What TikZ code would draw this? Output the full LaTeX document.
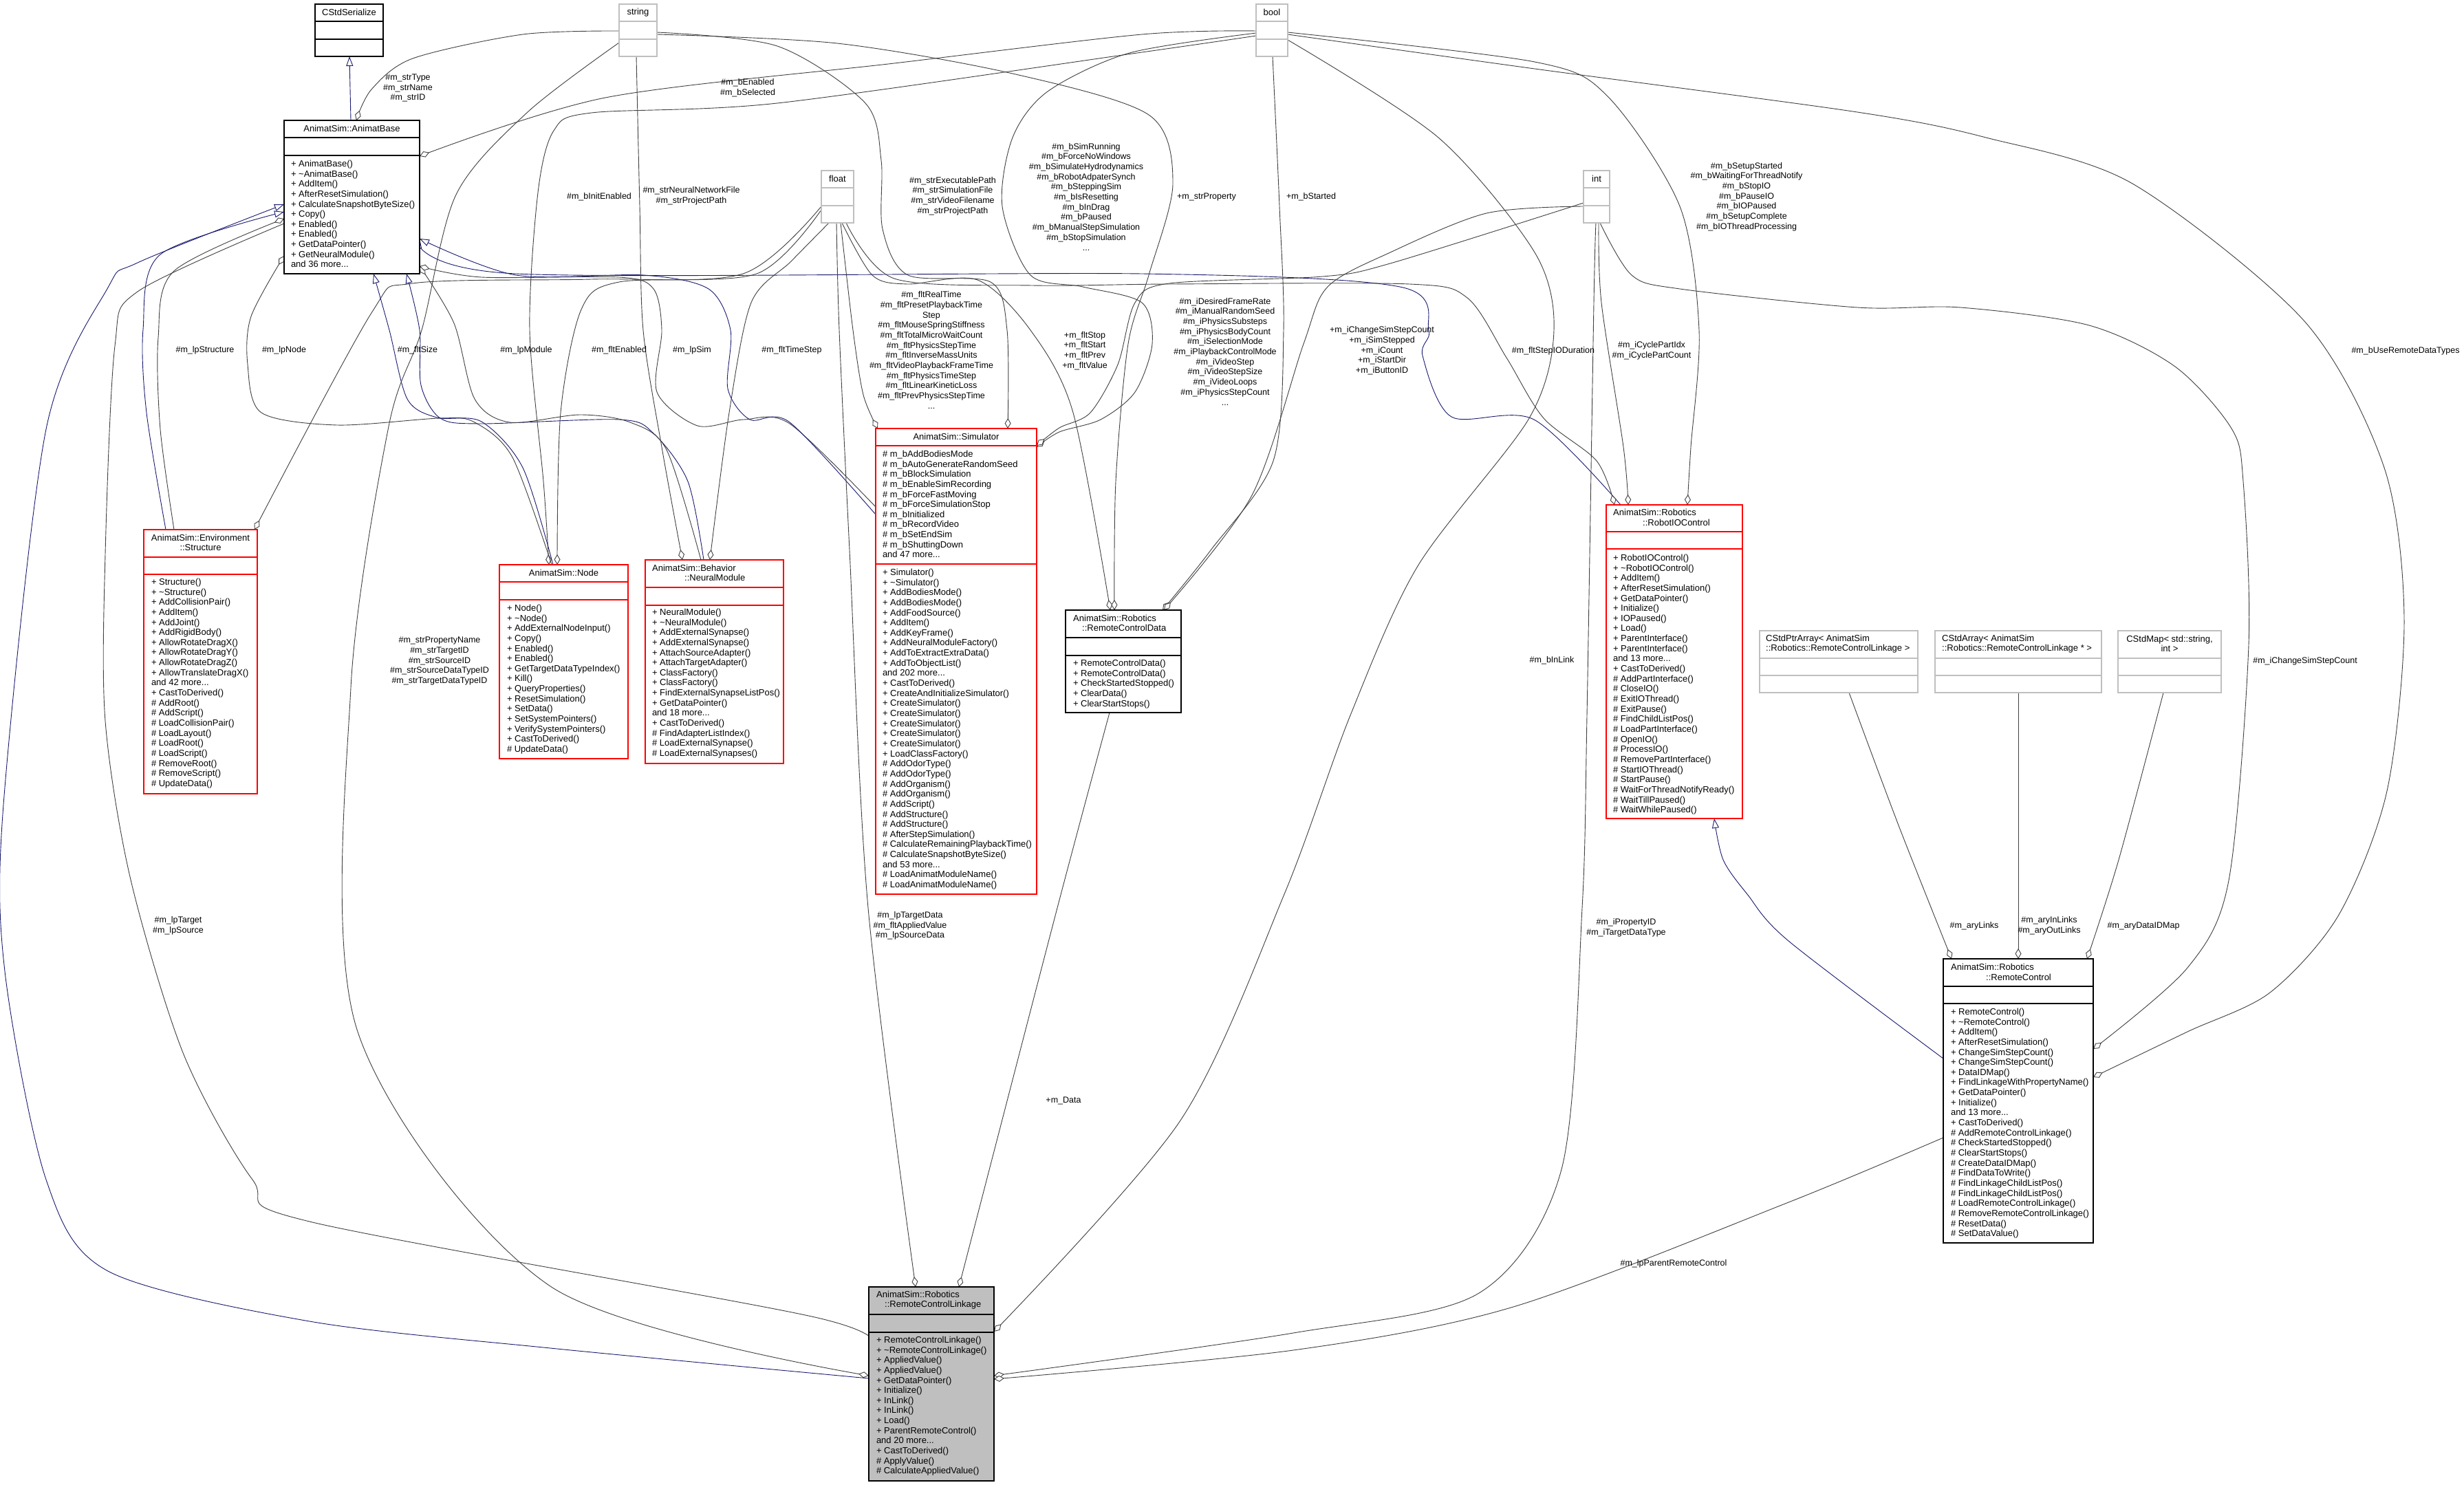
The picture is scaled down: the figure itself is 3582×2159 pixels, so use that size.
\documentclass[tikz,border=0pt]{standalone}
\usepackage{fontspec}
\setmainfont{Liberation Sans}
\usetikzlibrary{arrows.meta}
\definecolor{edgegray}{HTML}{404040}
\definecolor{inhblue}{HTML}{191970}
\definecolor{boxred}{HTML}{FF0000}
\definecolor{boxgray}{HTML}{BFBFBF}
\definecolor{linkfill}{HTML}{BFBFBF}
\newcommand{\mytilde}{\textasciitilde}
\newcommand{\hsep}[3]{\draw[#1, line width=1.1pt] ([shift={(0,#3)}]#2.north west) -- ([shift={(0,#3)}]#2.north east);}
\begin{document}
\begin{tikzpicture}[x=1pt,y=-1pt,
  box/.style={draw=#1, line width=1.1pt, fill=white, outer sep=0pt, inner sep=0pt, anchor=north west},
  tx/.style={inner sep=0pt, outer sep=0pt, font=\fontsize{13}{14.65}\selectfont, align=left, anchor=north west},
  ttl/.style={inner sep=0pt, font=\fontsize{13}{14.65}\selectfont, anchor=center},
  ttlw/.style={inner sep=0pt, font=\fontsize{13}{14.65}\selectfont, anchor=west},
  lbl/.style={inner sep=0pt, font=\fontsize{12.5}{14.7}\selectfont, align=center, anchor=center},
  agg/.style={draw=edgegray, line width=0.9pt, -{Diamond[length=15pt,width=9pt,fill=white]}},
  inh/.style={draw=inhblue, line width=0.9pt, -{Triangle[length=14pt,width=10pt,fill=white]}}]
\fill[white] (0,0) rectangle (3582,2159);
\useasboundingbox (0,0) rectangle (3582,2159);

% ---------- boxes (placed first so anchors exist) ----------
\node[box=black, minimum width=99pt, minimum height=76pt] (cs) at (458,6) {};
\node[box=black, minimum width=197pt, minimum height=223pt] (ab) at (413,175) {};
\node[box=boxgray, minimum width=55pt, minimum height=76pt] (str) at (900,6) {};
\node[box=boxgray, minimum width=47pt, minimum height=76pt] (flt) at (1194,248) {};
\node[box=boxgray, minimum width=46pt, minimum height=76pt] (bool) at (1826,6) {};
\node[box=boxgray, minimum width=38pt, minimum height=76pt] (int) at (2302,248) {};
\node[box=boxred, minimum width=165pt, minimum height=384pt] (st) at (209,770) {};
\node[box=boxred, minimum width=187pt, minimum height=282pt] (nd) at (726,821) {};
\node[box=boxred, minimum width=201pt, minimum height=296pt] (nm) at (938,814) {};
\node[box=boxred, minimum width=234pt, minimum height=677pt] (sim) at (1273,623) {};
\node[box=black, minimum width=168pt, minimum height=149pt] (rcd) at (1549,887) {};
\node[box=boxred, minimum width=198pt, minimum height=456pt] (rio) at (2335,734) {};
\node[box=boxgray, minimum width=230pt, minimum height=90pt] (ptr) at (2558,917) {};
\node[box=boxgray, minimum width=242pt, minimum height=90pt] (arr) at (2813,917) {};
\node[box=boxgray, minimum width=150pt, minimum height=90pt] (map) at (3079,917) {};
\node[box=black, minimum width=218pt, minimum height=413pt] (rc) at (2825,1394) {};
\node[box=black, fill=linkfill, minimum width=182pt, minimum height=282pt] (lk) at (1263,1871) {};

% ---------- connectors ----------
\draw[inh] ([shift={(97,0)}]ab.north west) -- ([shift={(50,76)}]cs.north west);
\draw[agg] plot[smooth] coordinates {([shift={(0,39)}]str.north west) (760,50) (600,85) (540,130) ([shift={(105,0)}]ab.north west)};
\draw[agg] plot[smooth] coordinates {([shift={(0,39)}]bool.north west) (1660,50) (1300,92) (880,142) ([shift={(197,52)}]ab.north west)};
\draw[agg] plot[smooth] coordinates {([shift={(0,46)}]bool.north west) (1660,76) (1130,150) (860,164) (805,190) (782,280) (770,480) (790,700) ([shift={(72,0)}]nd.north west)};
\draw[agg] plot[smooth] coordinates {([shift={(0,57)}]flt.north west) (1100,398) (900,410) (845,450) (815,600) ([shift={(84,0)}]nd.north west)};
\draw[agg] plot[smooth] coordinates {([shift={(0,52)}]flt.north west) (1080,398) (860,406) (600,412) (540,455) ([shift={(161,0)}]st.north west)};
\draw[inh] plot[smooth] coordinates {([shift={(32,0)}]st.north west) (213,600) (208,479) (233,370) ([shift={(0,133)}]ab.north west)};
\draw[agg] plot[smooth] coordinates {([shift={(44,0)}]st.north west) (233,624) (230,491) (253,394) ([shift={(0,143)}]ab.north west)};
\draw[agg] plot[smooth] coordinates {([shift={(76,0)}]nd.north west) (745,665) (690,614) (640,608) (490,618) (380,600) (360,530) (365,460) ([shift={(0,197)}]ab.north west)};
\draw[inh] plot[smooth] coordinates {([shift={(78,0)}]nd.north west) (760,680) (700,613) (635,607) (592,580) (566,480) ([shift={(130,223)}]ab.north west)};
\draw[inh] plot[smooth] coordinates {([shift={(85,0)}]nm.north west) (1000,700) (950,630) (900,610) (700,616) (640,608) (612,560) (610,480) ([shift={(178,223)}]ab.north west)};
\draw[agg] plot[smooth] coordinates {([shift={(81,0)}]nm.north west) (969,654) (916,614) (843,603) (741,614) (690,580) (660,470) ([shift={(197,212)}]ab.north west)};
\draw[agg] plot[smooth] coordinates {([shift={(0,114)}]sim.north west) (1148,616) (1081,610) (1014,619) (955,570) (962,480) (950,420) (900,403) (700,403) ([shift={(197,212)}]ab.north west)};
\draw[inh] plot[smooth] coordinates {([shift={(0,125)}]sim.north west) (1148,614) (1090,610) (1058,565) (1062,480) (1030,420) (936,400) (750,400) ([shift={(197,172)}]ab.north west)};
\draw[inh] plot[smooth] coordinates {([shift={(21,0)}]rio.north west) (2230,610) (2110,606) (2068,517) (2077,480) (2035,417) (1660,398) (750,398) ([shift={(197,172)}]ab.north west)};
\draw[agg] plot[smooth] coordinates {([shift={(0,150)}]ab.north west) (200,424) (167,503) (153,806) (153,1048) (190,1279) (267,1533) (367,1715) (450,1776) (1180,1914) ([shift={(0,86)}]lk.north west)};
\draw[inh] plot[smooth] coordinates {([shift={(0,133)}]lk.north west) (800,1960) (450,1921) (157,1848) (67,1715) (7,1412) (5,1170) (67,624) (157,418) (200,382) ([shift={(0,122)}]ab.north west)};
\draw[agg] plot[smooth] coordinates {([shift={(0,56)}]str.north west) (767,163) (663,283) (613,480) (565,620) (510,1000) (520,1500) (800,1870) ([shift={(0,129)}]lk.north west)};
\draw[agg] plot[smooth] coordinates {([shift={(25,76)}]str.north west) (930,300) (935,480) (962,650) ([shift={(54,0)}]nm.north west)};
\draw[agg] plot[smooth] coordinates {([shift={(11,76)}]flt.north west) (1150,380) (1092,440) (1060,600) ([shift={(94,0)}]nm.north west)};
\draw[agg] plot[smooth] coordinates {([shift={(28,76)}]flt.north west) (1240,480) (1255,574) ([shift={(3,0)}]sim.north west)};
\draw[agg] plot[smooth] coordinates {([shift={(22,76)}]flt.north west) (1220,480) (1235,800) (1262,1320) ([shift={(68,0)}]lk.north west)};
\draw[agg] plot[smooth] coordinates {([shift={(55,41)}]str.north west) (1130,67) (1258,150) (1281,233) (1283,333) (1320,400) (1440,410) (1464,480) ([shift={(192,0)}]sim.north west)};
\draw[agg] plot[smooth] coordinates {([shift={(30,76)}]flt.north west) (1268,400) (1319,413) (1421,407) (1498,480) (1560,600) ([shift={(65,0)}]rcd.north west)};
\draw[agg] plot[smooth] coordinates {([shift={(55,44)}]str.north west) (1217,63) (1472,107) (1670,167) (1705,267) (1670,400) (1640,500) (1622,700) ([shift={(71,0)}]rcd.north west)};
\draw[agg] plot[smooth] coordinates {([shift={(0,42)}]bool.north west) (1642,77) (1523,133) (1472,200) (1457,300) (1498,400) (1574,417) (1660,440) (1675,500) (1650,570) (1600,610) (1540,628) ([shift={(234,27)}]sim.north west)};
\draw[agg] plot[smooth] coordinates {([shift={(0,47)}]int.north west) (2021,383) (1923,402) (1700,412) (1650,440) (1625,530) (1585,600) (1540,622) ([shift={(234,25)}]sim.north west)};
\draw[agg] plot[smooth] coordinates {([shift={(24,76)}]bool.north west) (1860,300) (1866,480) (1851,670) (1760,800) ([shift={(141,0)}]rcd.north west)};
\draw[agg] plot[smooth] coordinates {([shift={(0,52)}]int.north west) (2161,310) (2021,367) (1930,417) (1895,500) (1820,720) ([shift={(143,0)}]rcd.north west)};
\draw[agg] plot[smooth] coordinates {([shift={(46,41)}]bool.north west) (2231,90) (2337,140) (2442,300) (2470,480) (2458,650) ([shift={(118,0)}]rio.north west)};
\draw[agg] plot[smooth] coordinates {([shift={(46,44)}]bool.north west) (2231,100) (2700,163) (2887,200) (3100,267) (3350,467) (3466,680) (3495,900) (3470,1150) (3400,1330) (3300,1443) (3180,1500) ([shift={(218,172)}]rc.north west)};
\draw[agg] plot[smooth] coordinates {([shift={(24,76)}]int.north west) (2372,400) (2442,420) (2700,447) (2850,447) (3037,473) (3162,533) (3244,623) (3261,700) (3269,937) (3240,1280) (3180,1407) ([shift={(218,131)}]rc.north west)};
\draw[agg] plot[smooth] coordinates {([shift={(22,76)}]int.north west) (2328,440) (2360,650) ([shift={(32,0)}]rio.north west)};
\draw[agg] plot[smooth] coordinates {([shift={(36,76)}]flt.north west) (1300,405) (1500,415) (1700,413) (2049,413) (2133,433) (2190,520) (2244,608) (2321,670) ([shift={(12,0)}]rio.north west)};
\draw[agg] plot[smooth] coordinates {([shift={(46,52)}]bool.north west) (2091,200) (2231,367) (2259,480) (2223,608) (2061,823) (1963,1040) (1867,1300) (1716,1629) ([shift={(182,65)}]lk.north west)};
\draw[agg] plot[smooth] coordinates {([shift={(18,76)}]int.north west) (2317,440) (2307,1040) (2300,1320) (2270,1700) (2150,1880) (1880,1938) ([shift={(182,129)}]lk.north west)};
\draw[agg] plot[smooth] coordinates {([shift={(64,149)}]rcd.north west) (1537,1320) ([shift={(131,0)}]lk.north west)};
\draw[agg] plot[smooth] coordinates {([shift={(0,260)}]rc.north west) (2600,1748) (2200,1900) (1880,1963) ([shift={(182,134)}]lk.north west)};
\draw[agg] plot[smooth] coordinates {([shift={(130,90)}]ptr.north west) (2760,1200) ([shift={(12,0)}]rc.north west)};
\draw[agg] ([shift={(121,90)}]arr.north west) -- ([shift={(109,0)}]rc.north west);
\draw[agg] plot[smooth] coordinates {([shift={(66,90)}]map.north west) (3080,1250) ([shift={(209,0)}]rc.north west)};
\draw[inh] plot[smooth] coordinates {([shift={(0,145)}]rc.north west) (2600,1368) (2540,1300) (2505,1250) ([shift={(157,456)}]rio.north west)};

% ---------- redraw boxes on top of connectors ----------
\node[box=black, minimum width=99pt, minimum height=76pt] (cs2) at (458,6) {};
\node[box=black, minimum width=197pt, minimum height=223pt] (ab2) at (413,175) {};
\node[box=boxgray, minimum width=55pt, minimum height=76pt] (str2) at (900,6) {};
\node[box=boxgray, minimum width=47pt, minimum height=76pt] (flt2) at (1194,248) {};
\node[box=boxgray, minimum width=46pt, minimum height=76pt] (bool2) at (1826,6) {};
\node[box=boxgray, minimum width=38pt, minimum height=76pt] (int2) at (2302,248) {};
\node[box=boxred, minimum width=165pt, minimum height=384pt] (st2) at (209,770) {};
\node[box=boxred, minimum width=187pt, minimum height=282pt] (nd2) at (726,821) {};
\node[box=boxred, minimum width=201pt, minimum height=296pt] (nm2) at (938,814) {};
\node[box=boxred, minimum width=234pt, minimum height=677pt] (sim2) at (1273,623) {};
\node[box=black, minimum width=168pt, minimum height=149pt] (rcd2) at (1549,887) {};
\node[box=boxred, minimum width=198pt, minimum height=456pt] (rio2) at (2335,734) {};
\node[box=boxgray, minimum width=230pt, minimum height=90pt] (ptr2) at (2558,917) {};
\node[box=boxgray, minimum width=242pt, minimum height=90pt] (arr2) at (2813,917) {};
\node[box=boxgray, minimum width=150pt, minimum height=90pt] (map2) at (3079,917) {};
\node[box=black, minimum width=218pt, minimum height=413pt] (rc2) at (2825,1394) {};
\node[box=black, fill=linkfill, minimum width=182pt, minimum height=282pt] (lk2) at (1263,1871) {};

% separators
\hsep{black}{cs}{25}\hsep{black}{cs}{51}
\hsep{black}{ab}{25}\hsep{black}{ab}{51}
\hsep{boxgray}{str}{25}\hsep{boxgray}{str}{51}
\hsep{boxgray}{flt}{25}\hsep{boxgray}{flt}{51}
\hsep{boxgray}{bool}{25}\hsep{boxgray}{bool}{51}
\hsep{boxgray}{int}{25}\hsep{boxgray}{int}{51}
\hsep{boxred}{st}{40}\hsep{boxred}{st}{65}
\hsep{boxred}{nd}{25}\hsep{boxred}{nd}{51}
\hsep{boxred}{nm}{40}\hsep{boxred}{nm}{66}
\hsep{boxred}{sim}{25}\hsep{boxred}{sim}{197}
\hsep{black}{rcd}{40}\hsep{black}{rcd}{66}
\hsep{boxred}{rio}{39}\hsep{boxred}{rio}{64}
\hsep{boxgray}{ptr}{40}\hsep{boxgray}{ptr}{65}
\hsep{boxgray}{arr}{40}\hsep{boxgray}{arr}{65}
\hsep{boxgray}{map}{40}\hsep{boxgray}{map}{65}
\hsep{black}{rc}{40}\hsep{black}{rc}{65}
\hsep{black}{lk}{40}\hsep{black}{lk}{66}

% ---------- titles ----------
\node[ttl] (cs-t) at (507.5,18) {CStdSerialize};
\node[ttl] (ab-t) at (511.5,187) {AnimatSim::AnimatBase};
\node[ttl] (str-t) at (927.5,18) {string};
\node[ttl] (flt-t) at (1217.5,260) {float};
\node[ttl] (bool-t) at (1849,18) {bool};
\node[ttl] (int-t) at (2321,260) {int};
\node[ttl, align=center] (st-t) at (291.5,789) {AnimatSim::Environment\\::Structure};
\node[ttl] (nd-t) at (819.5,833) {AnimatSim::Node};
\node[ttlw] (nm-t1) at (948,826) {AnimatSim::Behavior};
\node[ttlw] (nm-t2) at (995,840) {::NeuralModule};
\node[ttl] (sim-t) at (1390,635) {AnimatSim::Simulator};
\node[ttlw] (rcd-t1) at (1560,899) {AnimatSim::Robotics};
\node[ttlw] (rcd-t2) at (1573,913) {::RemoteControlData};
\node[ttlw] (rio-t1) at (2345,745) {AnimatSim::Robotics};
\node[ttlw] (rio-t2) at (2388,760) {::RobotIOControl};
\node[ttlw] (ptr-t1) at (2567,929) {CStdPtrArray< AnimatSim};
\node[ttlw] (ptr-t2) at (2567,943) {::Robotics::RemoteControlLinkage >};
\node[ttlw] (arr-t1) at (2823,929) {CStdArray< AnimatSim};
\node[ttlw] (arr-t2) at (2823,943) {::Robotics::RemoteControlLinkage * >};
\node[ttl, align=center] (map-t) at (3154,936) {CStdMap< std::string,\\int >};
\node[ttlw] (rc-t1) at (2836,1406) {AnimatSim::Robotics};
\node[ttlw] (rc-t2) at (2887,1421) {::RemoteControl};
\node[ttlw] (lk-t1) at (1274,1882) {AnimatSim::Robotics};
\node[ttlw] (lk-t2) at (1286,1897) {::RemoteControlLinkage};

% ---------- member lists ----------
\node[tx] (ab-m) at (423,233) {+ AnimatBase()\\+ \mytilde AnimatBase()\\+ AddItem()\\+ AfterResetSimulation()\\+ CalculateSnapshotByteSize()\\+ Copy()\\+ Enabled()\\+ Enabled()\\+ GetDataPointer()\\+ GetNeuralModule()\\and 36 more...};
\node[tx] (st-m) at (220,841) {+ Structure()\\+ \mytilde Structure()\\+ AddCollisionPair()\\+ AddItem()\\+ AddJoint()\\+ AddRigidBody()\\+ AllowRotateDragX()\\+ AllowRotateDragY()\\+ AllowRotateDragZ()\\+ AllowTranslateDragX()\\and 42 more...\\+ CastToDerived()\\\# AddRoot()\\\# AddScript()\\\# LoadCollisionPair()\\\# LoadLayout()\\\# LoadRoot()\\\# LoadScript()\\\# RemoveRoot()\\\# RemoveScript()\\\# UpdateData()};
\node[tx] (nd-m) at (737,879) {+ Node()\\+ \mytilde Node()\\+ AddExternalNodeInput()\\+ Copy()\\+ Enabled()\\+ Enabled()\\+ GetTargetDataTypeIndex()\\+ Kill()\\+ QueryProperties()\\+ ResetSimulation()\\+ SetData()\\+ SetSystemPointers()\\+ VerifySystemPointers()\\+ CastToDerived()\\\# UpdateData()};
\node[tx] (nm-m) at (948,885) {+ NeuralModule()\\+ \mytilde NeuralModule()\\+ AddExternalSynapse()\\+ AddExternalSynapse()\\+ AttachSourceAdapter()\\+ AttachTargetAdapter()\\+ ClassFactory()\\+ ClassFactory()\\+ FindExternalSynapseListPos()\\+ GetDataPointer()\\and 18 more...\\+ CastToDerived()\\\# FindAdapterListIndex()\\\# LoadExternalSynapse()\\\# LoadExternalSynapses()};
\node[tx] (sim-a) at (1283,655) {\# m\_bAddBodiesMode\\\# m\_bAutoGenerateRandomSeed\\\# m\_bBlockSimulation\\\# m\_bEnableSimRecording\\\# m\_bForceFastMoving\\\# m\_bForceSimulationStop\\\# m\_bInitialized\\\# m\_bRecordVideo\\\# m\_bSetEndSim\\\# m\_bShuttingDown\\and 47 more...};
\node[tx] (sim-m) at (1283,827) {+ Simulator()\\+ \mytilde Simulator()\\+ AddBodiesMode()\\+ AddBodiesMode()\\+ AddFoodSource()\\+ AddItem()\\+ AddKeyFrame()\\+ AddNeuralModuleFactory()\\+ AddToExtractExtraData()\\+ AddToObjectList()\\and 202 more...\\+ CastToDerived()\\+ CreateAndInitializeSimulator()\\+ CreateSimulator()\\+ CreateSimulator()\\+ CreateSimulator()\\+ CreateSimulator()\\+ CreateSimulator()\\+ LoadClassFactory()\\\# AddOdorType()\\\# AddOdorType()\\\# AddOrganism()\\\# AddOrganism()\\\# AddScript()\\\# AddStructure()\\\# AddStructure()\\\# AfterStepSimulation()\\\# CalculateRemainingPlaybackTime()\\\# CalculateSnapshotByteSize()\\and 53 more...\\\# LoadAnimatModuleName()\\\# LoadAnimatModuleName()};
\node[tx] (rcd-m) at (1560,959) {+ RemoteControlData()\\+ RemoteControlData()\\+ CheckStartedStopped()\\+ ClearData()\\+ ClearStartStops()};
\node[tx] (rio-m) at (2345,806) {+ RobotIOControl()\\+ \mytilde RobotIOControl()\\+ AddItem()\\+ AfterResetSimulation()\\+ GetDataPointer()\\+ Initialize()\\+ IOPaused()\\+ Load()\\+ ParentInterface()\\+ ParentInterface()\\and 13 more...\\+ CastToDerived()\\\# AddPartInterface()\\\# CloseIO()\\\# ExitIOThread()\\\# ExitPause()\\\# FindChildListPos()\\\# LoadPartInterface()\\\# OpenIO()\\\# ProcessIO()\\\# RemovePartInterface()\\\# StartIOThread()\\\# StartPause()\\\# WaitForThreadNotifyReady()\\\# WaitTillPaused()\\\# WaitWhilePaused()};
\node[tx] (rc-m) at (2836,1466) {+ RemoteControl()\\+ \mytilde RemoteControl()\\+ AddItem()\\+ AfterResetSimulation()\\+ ChangeSimStepCount()\\+ ChangeSimStepCount()\\+ DataIDMap()\\+ FindLinkageWithPropertyName()\\+ GetDataPointer()\\+ Initialize()\\and 13 more...\\+ CastToDerived()\\\# AddRemoteControlLinkage()\\\# CheckStartedStopped()\\\# ClearStartStops()\\\# CreateDataIDMap()\\\# FindDataToWrite()\\\# FindLinkageChildListPos()\\\# FindLinkageChildListPos()\\\# LoadRemoteControlLinkage()\\\# RemoveRemoteControlLinkage()\\\# ResetData()\\\# SetDataValue()};
\node[tx] (lk-m) at (1274,1943) {+ RemoteControlLinkage()\\+ \mytilde RemoteControlLinkage()\\+ AppliedValue()\\+ AppliedValue()\\+ GetDataPointer()\\+ Initialize()\\+ InLink()\\+ InLink()\\+ Load()\\+ ParentRemoteControl()\\and 20 more...\\+ CastToDerived()\\\# ApplyValue()\\\# CalculateAppliedValue()};

% ---------- connector labels ----------
\node[lbl] (l1) at (593,128) {\#m\_strType\\\#m\_strName\\\#m\_strID};
\node[lbl] (l2) at (1087,128) {\#m\_bEnabled\\\#m\_bSelected};
\node[lbl] (l3) at (871,286) {\#m\_bInitEnabled};
\node[lbl] (l4) at (1005,285) {\#m\_strNeuralNetworkFile\\\#m\_strProjectPath};
\node[lbl] (l5) at (1385,285) {\#m\_strExecutablePath\\\#m\_strSimulationFile\\\#m\_strVideoFilename\\\#m\_strProjectPath};
\node[lbl] (l6) at (1579,286) {\#m\_bSimRunning\\\#m\_bForceNoWindows\\\#m\_bSimulateHydrodynamics\\\#m\_bRobotAdpaterSynch\\\#m\_bSteppingSim\\\#m\_bIsResetting\\\#m\_bInDrag\\\#m\_bPaused\\\#m\_bManualStepSimulation\\\#m\_bStopSimulation\\...};
\node[lbl] (l7) at (1754,286) {+m\_strProperty};
\node[lbl] (l8) at (1906,286) {+m\_bStarted};
\node[lbl] (l9) at (2539,286) {\#m\_bSetupStarted\\\#m\_bWaitingForThreadNotify\\\#m\_bStopIO\\\#m\_bPauseIO\\\#m\_bIOPaused\\\#m\_bSetupComplete\\\#m\_bIOThreadProcessing};
\node[lbl] (l10) at (3497,510) {\#m\_bUseRemoteDataTypes};
\node[lbl] (l11) at (298,509) {\#m\_lpStructure};
\node[lbl] (l12) at (413,509) {\#m\_lpNode};
\node[lbl] (l13) at (607,509) {\#m\_fltSize};
\node[lbl] (l14) at (765,509) {\#m\_lpModule};
\node[lbl] (l15) at (900,509) {\#m\_fltEnabled};
\node[lbl] (l16) at (1006,509) {\#m\_lpSim};
\node[lbl] (l17) at (1151,509) {\#m\_fltTimeStep};
\node[lbl] (l18) at (1354,509) {\#m\_fltRealTime\\\#m\_fltPresetPlaybackTime\\Step\\\#m\_fltMouseSpringStiffness\\\#m\_fltTotalMicroWaitCount\\\#m\_fltPhysicsStepTime\\\#m\_fltInverseMassUnits\\\#m\_fltVideoPlaybackFrameTime\\\#m\_fltPhysicsTimeStep\\\#m\_fltLinearKineticLoss\\\#m\_fltPrevPhysicsStepTime\\...};
\node[lbl] (l19) at (1577,510) {+m\_fltStop\\+m\_fltStart\\+m\_fltPrev\\+m\_fltValue};
\node[lbl] (l20) at (1781,511) {\#m\_iDesiredFrameRate\\\#m\_iManualRandomSeed\\\#m\_iPhysicsSubsteps\\\#m\_iPhysicsBodyCount\\\#m\_iSelectionMode\\\#m\_iPlaybackControlMode\\\#m\_iVideoStep\\\#m\_iVideoStepSize\\\#m\_iVideoLoops\\\#m\_iPhysicsStepCount\\...};
\node[lbl] (l21) at (2009,510) {+m\_iChangeSimStepCount\\+m\_iSimStepped\\+m\_iCount\\+m\_iStartDir\\+m\_iButtonID};
\node[lbl] (l22) at (2258,510) {\#m\_fltStepIODuration};
\node[lbl] (l23) at (2401,510) {\#m\_iCyclePartIdx\\\#m\_iCyclePartCount};
\node[lbl] (l24) at (3351,961) {\#m\_iChangeSimStepCount};
\node[lbl] (l25) at (2256,960) {\#m\_bInLink};
\node[lbl] (l26) at (639,961) {\#m\_strPropertyName\\\#m\_strTargetID\\\#m\_strSourceID\\\#m\_strSourceDataTypeID\\\#m\_strTargetDataTypeID};
\node[lbl] (l27) at (259,1346) {\#m\_lpTarget\\\#m\_lpSource};
\node[lbl] (l28) at (1323,1346) {\#m\_lpTargetData\\\#m\_fltAppliedValue\\\#m\_lpSourceData};
\node[lbl] (l29) at (1546,1600) {+m\_Data};
\node[lbl] (l30) at (2364,1349) {\#m\_iPropertyID\\\#m\_iTargetDataType};
\node[lbl] (l31) at (2870,1346) {\#m\_aryLinks};
\node[lbl] (l32) at (2979,1346) {\#m\_aryInLinks\\\#m\_aryOutLinks};
\node[lbl] (l33) at (3116,1346) {\#m\_aryDataIDMap};
\node[lbl] (l34) at (2433,1837) {\#m\_lpParentRemoteControl};
\end{tikzpicture}
\end{document}
